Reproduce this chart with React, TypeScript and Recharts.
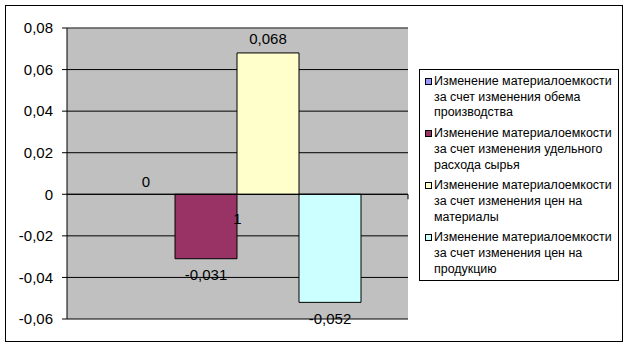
import { Bar, BarChart, CartesianGrid, LabelList, Legend, ReferenceLine, XAxis, YAxis } from "recharts";

const categories = ["1"];
const seriesNames = [
  "Изменение материалоемкости\nза счет изменения обема\nпроизводства",
  "Изменение материалоемкости\nза счет изменения удельного\nрасхода сырья",
  "Изменение материалоемкости\nза счет изменения цен на\nматериалы",
  "Изменение материалоемкости\nза счет изменения цен на\nпродукцию",
];
const seriesValues = [0, -0.031, 0.068, -0.052];
const seriesColors = ["#9999FF", "#993366", "#FFFFCC", "#CCFFFF"];
const yTicks = [-0.06, -0.04, -0.02, 0, 0.02, 0.04, 0.06, 0.08];

const data = categories.map((name) => {
  const row: Record<string, string | number> = { name };
  seriesValues.forEach((v, i) => {
    row[`s${i}`] = v;
  });
  return row;
});

const font = "'Liberation Sans', Arial, sans-serif";

const fmtTick = (v: number) => (v === 0 ? "0" : v.toFixed(2).replace(".", ","));
const fmtLabel = (v: number) => (v === 0 ? "0" : v.toFixed(3).replace(".", ","));

const renderValueLabel = (props: any) => {
  const { x, y, width, height, value } = props;
  const v = Number(value);
  const top = Math.min(Number(y), Number(y) + Number(height));
  const bottom = Math.max(Number(y), Number(y) + Number(height));
  const cx = Number(x) + Number(width) / 2;
  const cy = v > 0 ? top - 14 : v < 0 ? bottom + 16 : bottom - 13;
  return (
    <text x={cx + (v === 0 ? 2 : 0)} y={cy} textAnchor="middle" dominantBaseline="central" fontSize={15} fill="#000" fontFamily={font}>
      {fmtLabel(v)}
    </text>
  );
};

const renderAxisLabel = (props: any) => {
  const { viewBox } = props;
  const { x, y, width } = viewBox;
  return (
    <g>
      <line x1={x + width} y1={y} x2={x + width} y2={y + 5} stroke="#000" />
      <text x={x + width / 2} y={y + 24} textAnchor="middle" dominantBaseline="central" fontSize={15} fill="#000" fontFamily={font}>
        {categories[0]}
      </text>
    </g>
  );
};

function LegendBox() {
  return (
    <div
      style={{
        border: "1px solid #000",
        background: "#fff",
        boxSizing: "border-box",
        width: 200,
        height: 212,
        padding: "4px 0 0 5px",
        fontFamily: font,
        fontSize: 12.45,
        lineHeight: "15.7px",
        color: "#000",
        overflow: "hidden",
      }}
    >
      {seriesNames.map((n, i) => (
        <div key={i} style={{ display: "flex", alignItems: "flex-start", marginBottom: 5 }}>
          <div
            style={{
              width: 7,
              height: 7,
              marginTop: 4,
              marginRight: 2,
              border: "1px solid #000",
              background: seriesColors[i],
              flexShrink: 0,
              boxSizing: "border-box",
            }}
          />
          <div style={{ whiteSpace: "pre" }}>{n}</div>
        </div>
      ))}
    </div>
  );
}

export default function App() {
  return (
    <div style={{ position: "absolute", left: 0, top: 0, width: 629, height: 348, background: "#fff" }}>
      <div
        style={{
          position: "absolute",
          left: 5,
          top: 5,
          width: 618,
          height: 337,
          border: "1px solid #000",
          boxSizing: "border-box",
        }}
      />
      <BarChart
        width={629}
        height={348}
        data={data}
        margin={{ top: 28, right: 221, bottom: 29, left: 7 }}
        barCategoryGap={46}
        barGap={0}
        style={{ fontFamily: font }}
      >
        <CartesianGrid vertical={false} stroke="#000" fill="#C0C0C0" />
        <XAxis dataKey="name" hide />
        <YAxis
          width={60}
          domain={[-0.06, 0.08]}
          ticks={yTicks}
          tickFormatter={fmtTick}
          tick={{ fontSize: 15, fill: "#000", fontFamily: font }}
          tickSize={5}
          tickMargin={9}
          stroke="#000"
          interval={0}
          allowDataOverflow
        />
        <ReferenceLine y={0.08} stroke="#808080" />
        {seriesNames.map((n, i) => (
          <Bar
            key={i}
            dataKey={`s${i}`}
            name={n}
            fill={seriesColors[i]}
            stroke={seriesValues[i] === 0 ? "none" : "#000"}
            strokeWidth={1}
            minPointSize={0.01}
            isAnimationActive={false}
          >
            <LabelList dataKey={`s${i}`} content={renderValueLabel} />
          </Bar>
        ))}
        <ReferenceLine y={0} stroke="#000" label={renderAxisLabel} />
        <Legend
          layout="horizontal"
          verticalAlign="middle"
          align="center"
          wrapperStyle={{ left: 419, top: 69, width: 200 }}
          content={() => <LegendBox />}
        />
      </BarChart>
    </div>
  );
}
